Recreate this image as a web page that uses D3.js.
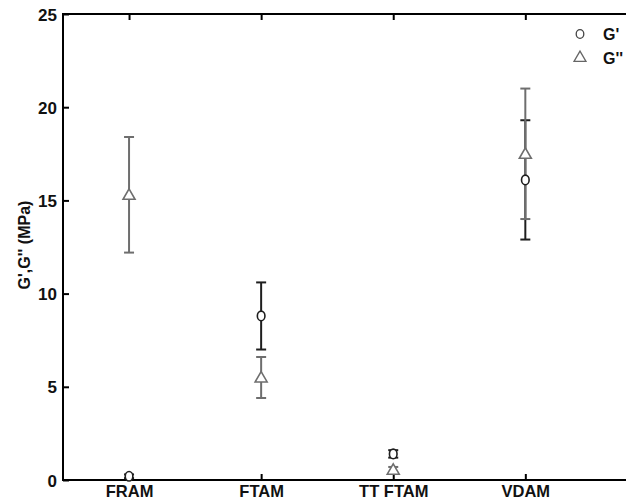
<!DOCTYPE html>
<html>
<head>
<meta charset="utf-8">
<script src="https://cdn.jsdelivr.net/npm/d3@7/dist/d3.min.js"></script>
<style>
  html, body { margin: 0; padding: 0; background: #fff; }
  svg { display: block; }
  text { font-family: Arial, "Liberation Sans", sans-serif; font-weight: bold; }
</style>
</head>
<body>
<svg id="chart" width="626" height="504"></svg>
<script>
// Materials on the x axis
const categories = ["FRAM", "FTAM", "TT FTAM", "VDAM"];
// Storage modulus G' (MPa): mean and standard deviation
const gPrime = [0.2, 8.8, 1.4, 16.1];
const gPrimeErr = [0.1, 1.8, 0.2, 3.2];
// Loss modulus G'' (MPa): mean and standard deviation
const gDouble = [15.3, 5.5, 0.55, 17.5];
const gDoubleErr = [3.1, 1.1, 0.15, 3.5];
const yTicks = [0, 5, 10, 15, 20, 25];

const svg = d3.select("#chart");
const plotL = 63, plotR = 631, plotT = 14, plotB = 480;

const x = d3.scaleLinear().domain([0.5, 4.8]).range([plotL, plotR]);
const y = d3.scaleLinear().domain([0, 25]).range([plotB, plotT]);

const darkCol = "#1e1e1e";
const greyCol = "#6e6e6e";

// Frame
svg.append("rect")
  .attr("x", plotL).attr("y", plotT)
  .attr("width", plotR - plotL).attr("height", plotB - plotT)
  .attr("fill", "none").attr("stroke", "#000").attr("stroke-width", 2);

// Y axis: inward ticks
const yAxis = d3.axisLeft(y).tickValues(yTicks).tickSizeInner(-6).tickSizeOuter(0).tickPadding(6);
const gy = svg.append("g").attr("transform", `translate(${plotL},0)`).call(yAxis);
gy.select(".domain").remove();
gy.selectAll("line").attr("stroke", "#000").attr("stroke-width", 2);
gy.selectAll("text").attr("font-size", 17).attr("fill", "#111").attr("dy", "0.36em");

// Bottom axis: inward ticks at each category
const xAxis = d3.axisBottom(x).tickValues([1, 2, 3, 4])
  .tickFormat(d => categories[d - 1]).tickSizeInner(-6).tickSizeOuter(0);
const gx = svg.append("g").attr("transform", `translate(0,${plotB})`).call(xAxis);
gx.select(".domain").remove();
gx.selectAll("line").attr("stroke", "#000").attr("stroke-width", 2);
gx.selectAll("text").attr("font-size", 16.5).attr("fill", "#111")
  .attr("y", 17).attr("dy", 0);

// Top mirrored ticks
const gt = svg.append("g").attr("transform", `translate(0,${plotT})`)
  .call(d3.axisTop(x).tickValues([1, 2, 3, 4]).tickSizeInner(-6).tickSizeOuter(0).tickFormat(""));
gt.select(".domain").remove();
gt.selectAll("line").attr("stroke", "#000").attr("stroke-width", 2);

// Y label
svg.append("text")
  .attr("transform", `translate(30,245) rotate(-90)`)
  .attr("text-anchor", "middle").attr("font-size", 16).attr("fill", "#111")
  .text("G',G'' (MPa)");

const capW = 5;
function errorBars(vals, errs, col) {
  const g = svg.append("g").attr("stroke", col).attr("stroke-width", 2);
  vals.forEach((v, i) => {
    const cx = x(i + 1);
    const y0 = y(v - errs[i]), y1 = y(v + errs[i]);
    g.append("line").attr("x1", cx).attr("x2", cx).attr("y1", y0).attr("y2", y1);
    g.append("line").attr("x1", cx - capW).attr("x2", cx + capW).attr("y1", y0).attr("y2", y0);
    g.append("line").attr("x1", cx - capW).attr("x2", cx + capW).attr("y1", y1).attr("y2", y1);
  });
}

errorBars(gPrime, gPrimeErr, darkCol);
errorBars(gDouble, gDoubleErr, greyCol);

const triSym = d3.symbol().type(d3.symbolTriangle).size(62);

// G'' markers
svg.append("g").selectAll("path").data(gDouble).join("path")
  .attr("d", triSym)
  .attr("transform", (d, i) => `translate(${x(i + 1)},${y(d) + 1})`)
  .attr("fill", "#fff").attr("stroke", greyCol).attr("stroke-width", 1.6);

// G' markers
svg.append("g").selectAll("ellipse").data(gPrime).join("ellipse")
  .attr("cx", (d, i) => x(i + 1)).attr("cy", d => y(d))
  .attr("rx", 3.8).attr("ry", 4.8)
  .attr("fill", "#fff").attr("stroke", darkCol).attr("stroke-width", 1.6);

// Legend
const lg = svg.append("g").attr("transform", "translate(580,0)");
lg.append("ellipse").attr("cx", 0).attr("cy", 34).attr("rx", 3.8).attr("ry", 4.3)
  .attr("fill", "none").attr("stroke", "#444").attr("stroke-width", 1.3);
lg.append("path").attr("d", triSym).attr("transform", "translate(0,58)")
  .attr("fill", "none").attr("stroke", "#666").attr("stroke-width", 1.3);
lg.append("text").attr("x", 23).attr("y", 40).attr("font-size", 16).attr("fill", "#111").text("G'");
lg.append("text").attr("x", 23).attr("y", 64).attr("font-size", 16).attr("fill", "#111").text("G''");
</script>
</body>
</html>
